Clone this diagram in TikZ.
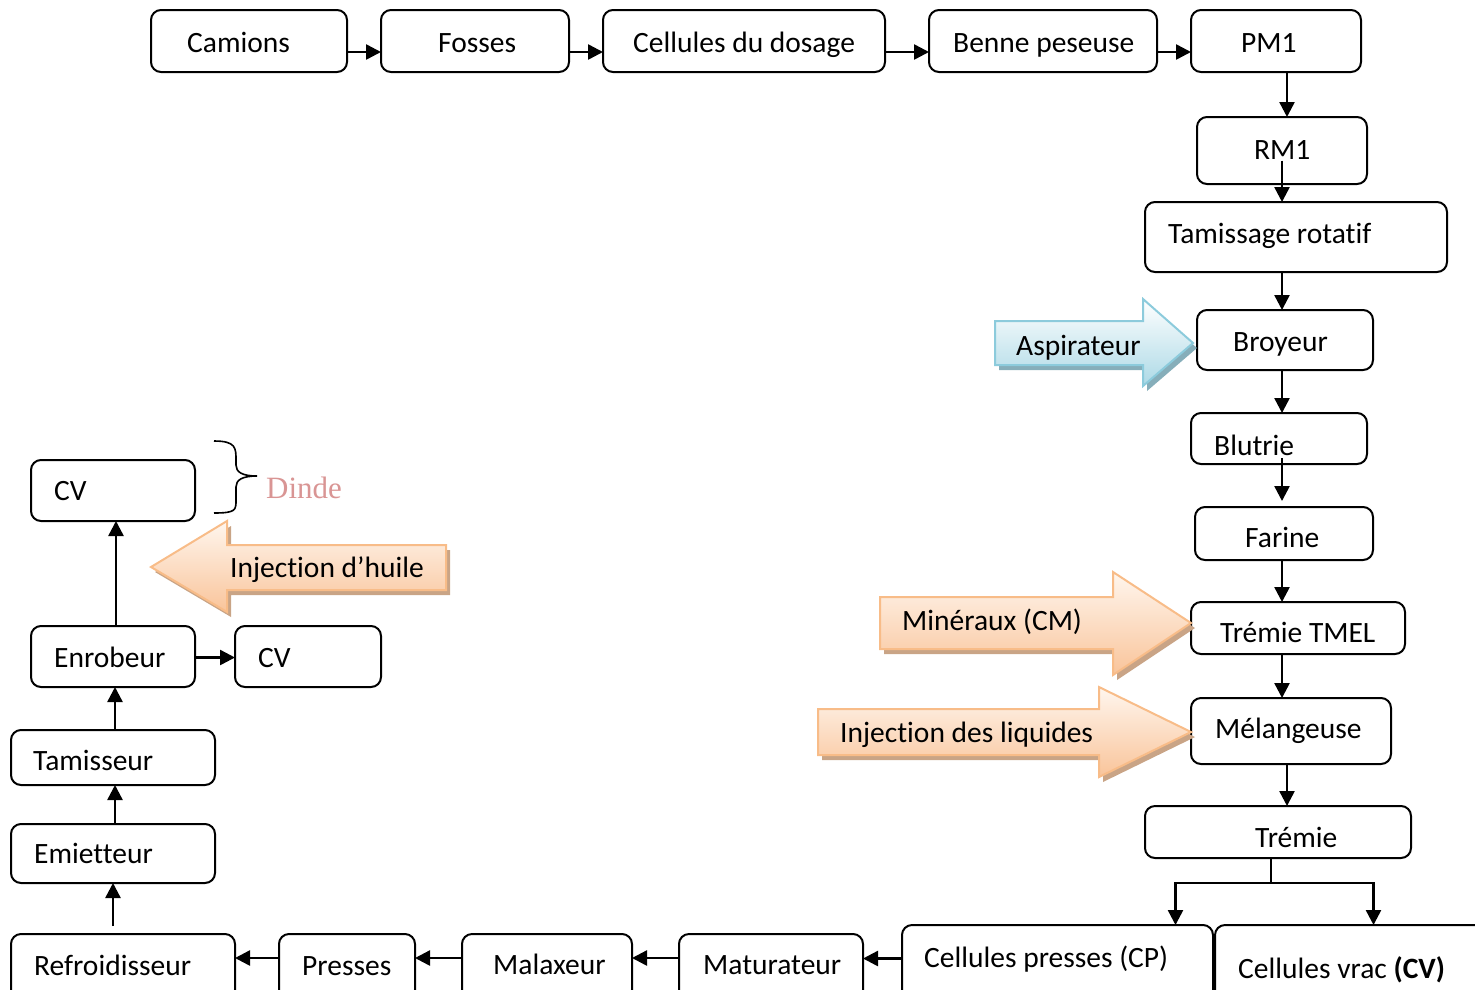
\documentclass[tikz,border=0pt]{standalone}
\usepackage{fontspec}
\setmainfont{Carlito}[Ligatures=NoCommon]
\newfontfamily\dindefont{Liberation Serif}
\usetikzlibrary{arrows.meta,calc}

\definecolor{peachtop}{HTML}{FFF6EE}
\definecolor{peachbot}{HTML}{F9C49A}
\definecolor{peachline}{HTML}{F8BC88}
\definecolor{peachshadow}{HTML}{C9A486}
\definecolor{bluetop}{HTML}{FFFFFF}
\definecolor{bluebot}{HTML}{ACD9E6}
\definecolor{blueline}{HTML}{8CCBDC}
\definecolor{blueshadow}{HTML}{86AEBA}
\definecolor{dindecol}{HTML}{D99594}

% process step: rounded frame from (x1,y1) to (x2,y2), label set at its baseline
\newcommand\stagebox[8]{%
  \node[stage, minimum width={#4-#2}, minimum height={#5-#3}] (#1) at ({(#2+#4)/2},{(#3+#5)/2}) {};
  \node[steptext] (#1-t) at (#6,#7) {#8};
}

\begin{document}
\begin{tikzpicture}[x=1pt,y=-1pt,
  stage/.style={draw, line width=2pt, rounded corners=10pt, inner sep=0pt, outer sep=0pt},
  steptext/.style={anchor=base west, inner sep=0pt, font=\fontsize{29.5}{35}\selectfont},
  conn/.style={line width=2.5pt, -{Triangle[length=15pt,width=15pt]}},
  wire/.style={line width=2pt},
  peacharrow/.style={top color=peachtop, bottom color=peachbot, draw=peachline, line width=2pt, line join=miter},
  bluearrow/.style={top color=bluetop, bottom color=bluebot, draw=blueline, line width=2pt, line join=miter},
]
\useasboundingbox (0,0) rectangle (1475,989);

% ---------- top row ----------
\stagebox{camions}{151}{10}{347}{72}{187}{52}{Camions}
\stagebox{fosses}{381}{10}{569}{72}{438}{52}{Fosses}
\stagebox{dosage}{603}{10}{885}{72}{633}{52}{Cellules du dosage}
\stagebox{benne}{929}{10}{1157}{72}{953}{52}{Benne peseuse}
\stagebox{pm}{1191}{10}{1361}{72}{1241}{52}{PM1}

% ---------- right column ----------
\stagebox{rm}{1197}{117}{1367}{184}{1254}{159}{RM1}
\stagebox{tamis}{1145}{202}{1447}{272}{1168}{243}{Tamissage rotatif}
\stagebox{broyeur}{1197}{310}{1373}{370}{1233}{351}{Broyeur}
\stagebox{blutrie}{1191}{413}{1367}{464}{1214}{455}{Blutrie}
\stagebox{farine}{1195}{507}{1373}{560}{1245}{547}{Farine}
\stagebox{tmel}{1191}{602}{1405}{654}{1220}{642}{Trémie TMEL}
\stagebox{melang}{1191}{698}{1391}{764}{1215}{738}{Mélangeuse}
\stagebox{tremie}{1145}{806}{1411}{858}{1255}{847}{Trémie}
\stagebox{cp}{902}{925}{1213}{1010}{924}{967}{Cellules presses (CP)}
\stagebox{cvrac}{1215}{925}{1490}{1010}{1238}{978}{Cellules vrac \textbf{(CV)}}

% ---------- bottom row ----------
\stagebox{matur}{679}{934}{863}{1000}{703}{974}{Maturateur}
\stagebox{malax}{462}{934}{632}{1000}{493}{974}{Malaxeur}
\stagebox{presses}{279}{934}{415}{1000}{302}{975}{Presses}
\stagebox{refroid}{11}{934}{235}{1000}{34}{975}{Refroidisseur}

% ---------- left column ----------
\stagebox{emiet}{11}{824}{215}{883}{34}{863}{Emietteur}
\stagebox{tamisseur}{11}{730}{215}{785}{33}{770}{Tamisseur}
\stagebox{enrob}{31}{626}{195}{687}{54}{667}{Enrobeur}
\stagebox{cvside}{235}{626}{381}{687}{258}{667}{CV}
\stagebox{cvtop}{31}{460}{195}{521}{54}{500}{CV}

% ---------- connectors, top row ----------
\draw[conn] ([yshift=-11pt]camions.east) -- ([yshift=-11pt]fosses.west);
\draw[conn] ([yshift=-11pt]fosses.east) -- ([yshift=-11pt]dosage.west);
\draw[conn] ([yshift=-11pt]dosage.east) -- ([yshift=-11pt]benne.west);
\draw[conn] ([yshift=-11pt]benne.east) -- ([yshift=-11pt]pm.west);

% ---------- connectors, right column ----------
\draw[conn] ([xshift=11pt]pm.south) -- ([xshift=11pt]pm.south |- rm.north);
\draw[conn] ([yshift=-10pt]rm.center) -- (rm.center |- tamis.north);
\draw[conn] (rm.center |- tamis.south) -- (rm.center |- broyeur.north);
\draw[conn] (rm.center |- broyeur.south) -- (rm.center |- blutrie.north);
\draw[conn] ($(rm.center |- blutrie.south)+(0,-6)$) -- ($(rm.center |- farine.north)+(0,-6)$);
\draw[conn] (rm.center |- farine.south) -- (rm.center |- tmel.north);
\draw[conn] (rm.center |- tmel.south) -- (rm.center |- melang.north);
\draw[conn] ([xshift=-4pt]melang.south) -- ([xshift=-4pt]melang.south |- tremie.north);
\coordinate (fork) at ($(tremie.south)+(-7,25)$);
\draw[wire] ([xshift=-7pt]tremie.south) -- (fork);
\draw[conn] (fork) -| ([xshift=118pt]cp.north);
\draw[conn] (fork) -| ([xshift=21pt]cvrac.north);

% ---------- connectors, bottom row ----------
\draw[conn] ([yshift=9pt]cp.west) -- ([yshift=9pt]cp.west -| matur.east);
\draw[conn] ([yshift=9pt]matur.west) -- ([yshift=9pt]malax.east);
\draw[conn] ([yshift=9pt]malax.west) -- ([yshift=9pt]presses.east);
\draw[conn] ([yshift=9pt]presses.west) -- ([yshift=9pt]refroid.east);

% ---------- connectors, left column ----------
\draw[conn] ($(emiet.south |- refroid.north)+(0,-8)$) -- (emiet.south);
\draw[conn] ([xshift=2pt]emiet.north) -- ([xshift=2pt]tamisseur.south);
\draw[conn] ([xshift=2pt]tamisseur.north) -- ([xshift=2pt]enrob.south);
\draw[conn] ([xshift=3pt]enrob.north) -- ([xshift=3pt]cvtop.south);
\draw[conn] ([yshift=-1pt]enrob.east) -- ([yshift=-1pt]cvside.west);

% ---------- block arrows ----------
% Aspirateur
\fill[blueshadow, shift={(4,5)}] (995,321) -- (1143,321) -- (1143,299) -- (1193,343) -- (1143,386) -- (1143,365) -- (995,365) -- cycle;
\path[bluearrow] (995,321) -- (1143,321) -- (1143,299) -- (1193,343) -- (1143,386) -- (1143,365) -- (995,365) -- cycle;
\node[steptext] (aspi-t) at (1016,355) {Aspirateur};

% Minéraux (CM)
\fill[peachshadow, shift={(4,5)}] (880,597) -- (1113,597) -- (1113,572) -- (1191,623) -- (1113,675) -- (1113,649) -- (880,649) -- cycle;
\path[peacharrow] (880,597) -- (1113,597) -- (1113,572) -- (1191,623) -- (1113,675) -- (1113,649) -- (880,649) -- cycle;
\node[steptext] (miner-t) at (902,630) {Minéraux (CM)};

% Injection des liquides
\fill[peachshadow, shift={(4,5)}] (818,709) -- (1099,709) -- (1099,687) -- (1191,732) -- (1099,777) -- (1099,755) -- (818,755) -- cycle;
\path[peacharrow] (818,709) -- (1099,709) -- (1099,687) -- (1191,732) -- (1099,777) -- (1099,755) -- (818,755) -- cycle;
\node[steptext] (liq-t) at (840,742) {Injection des liquides};

% Injection d'huile
\fill[peachshadow, shift={(4,5)}] (446,545) -- (227,545) -- (227,521) -- (151,567) -- (227,612) -- (227,590) -- (446,590) -- cycle;
\path[peacharrow] (446,545) -- (227,545) -- (227,521) -- (151,567) -- (227,612) -- (227,590) -- (446,590) -- cycle;
\node[steptext] (huile-t) at (230,577) {Injection d’huile};

% ---------- brace and label ----------
\draw[line width=1.6pt] (214,441) .. controls (236,441) and (236,448) .. (236,460)
  -- (236,465) .. controls (236,472) and (242,476) .. (257,476)
  .. controls (242,476) and (236,480) .. (236,487)
  -- (236,500) .. controls (236,510) and (236,513) .. (214,513);
\node[anchor=base west, inner sep=0pt, text=dindecol, font=\dindefont\fontsize{31}{36}\selectfont] (dinde) at (266,498) {Dinde};

\end{tikzpicture}
\end{document}
